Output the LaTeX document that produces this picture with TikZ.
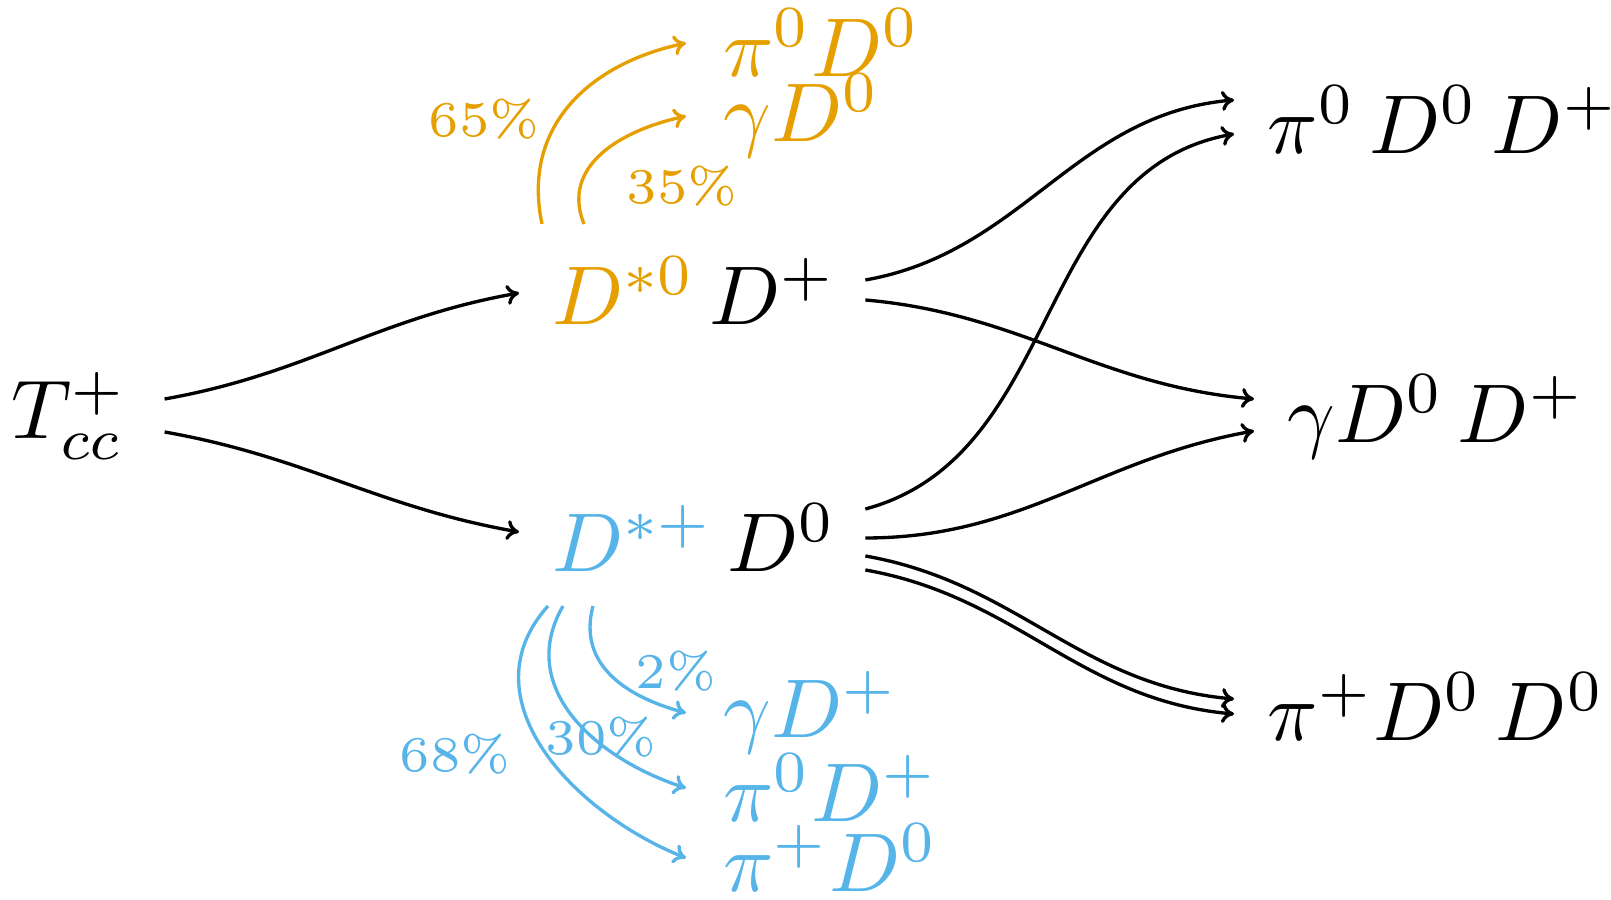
\documentclass[tikz,border=0pt]{standalone}
\usepackage{tikz}
\usetikzlibrary{arrows.meta, positioning, calc}
\definecolor{dstarzero}{HTML}{E69F00}
\definecolor{dstarplus}{HTML}{56B4E9}

\begin{document}
\begin{tikzpicture}[
    x=0.12pt, y=-0.12pt,
    state/.style={inner sep=4.3pt, anchor=base west, font=\normalsize},
    decay/.style={-{To[length=1.5pt, width=2.4pt]}, line width=0.4pt},
    frac/.style={inner sep=0pt, font=\fontsize{6}{7}\selectfont}
]
    \useasboundingbox (0,0) rectangle (1611,900);

    % states
    \node[state] (tcc) at (-26,439) {$T_{cc}^{+}$};
    \node[state] (dsz) at (515,325) {$\color{dstarzero}D^{*0}\,\color{black}D^{+}$};
    \node[state] (dsp) at (515,572) {$\color{dstarplus}D^{*+}\,\color{black}D^{0}$};
    \node[state] (pzdzdp) at (1230,154) {$\pi^{0}\,D^{0}\,D^{+}$};
    \node[state] (gdzdp) at (1250,443) {$\gamma D^{0}\,D^{+}$};
    \node[state] (ppdzdz) at (1230,741) {$\pi^{+}D^{0}\,D^{0}$};

    % D*0 and D*+ decays
    \node[state, dstarzero] (pzdz) at (686,77) {$\pi^{0}D^{0}$};
    \node[state, dstarzero] (gdz) at (686,142) {$\gamma D^{0}$};
    \node[state, dstarplus] (gdp) at (686,738) {$\gamma D^{+}$};
    \node[state, dstarplus] (pzdp) at (686,822) {$\pi^{0}D^{+}$};
    \node[state, dstarplus] (ppdz) at (686,892) {$\pi^{+}D^{0}$};

    % branching fractions
    \node[frac, dstarzero] (bf65) at (484,119) {65\%};
    \node[frac, dstarzero] (bf35) at (682,186) {35\%};
    \node[frac, dstarplus] (bf2) at (676,671) {2\%};
    \node[frac, dstarplus] (bf30) at (601,737) {30\%};
    \node[frac, dstarplus] (bf68) at (455,754) {68\%};

    \draw[decay] ($(tcc.base east)+(0,-40)$) to[out=10, in=190] ($(dsz.base west)+(4,-32)$);
    \draw[decay] ($(tcc.base east)+(0,-7)$) to[out=-10, in=170] ($(dsp.base west)+(4,-40)$);

    \draw[decay, dstarzero] ($(dsz.base west)+(27,-101)$) to[out=102, in=192, looseness=1.1] (pzdz.west);
    \draw[decay, dstarzero] ($(dsz.base west)+(69,-101)$) to[out=112, in=192, looseness=1.1] (gdz.west);

    \draw[decay, dstarplus] ($(dsp.base west)+(78,34)$) to[out=255, in=165, looseness=1.1] (gdp.west);
    \draw[decay, dstarplus] ($(dsp.base west)+(48,34)$) to[out=240, in=162, looseness=1.1] (pzdp.west);
    \draw[decay, dstarplus] ($(dsp.base west)+(33,34)$) to[out=228, in=158, looseness=1.1] (ppdz.west);

    \draw[decay] ($(dsz.base east)+(-8,-45)$) to[out=10, in=185] ($(pzdzdp.base west)+(4,-54)$);
    \draw[decay] ($(dsz.base east)+(-8,-25)$) to[out=-5, in=175] ($(gdzdp.base west)+(4,-44)$);
    \draw[decay] ($(dsp.base east)+(-8,-63)$) to[out=15, in=190] ($(pzdzdp.base west)+(4,-20)$);
    \draw[decay] ($(dsp.base east)+(-8,-34)$) to[out=0, in=190] ($(gdzdp.base west)+(4,-12)$);
    \draw[decay] ($(dsp.base east)+(-8,-16)$) to[out=-10, in=175] ($(ppdzdz.base west)+(4,-42)$);
    \draw[decay] ($(dsp.base east)+(-8,-2)$) to[out=-10, in=175] ($(ppdzdz.base west)+(4,-27)$);
\end{tikzpicture}
\end{document}
